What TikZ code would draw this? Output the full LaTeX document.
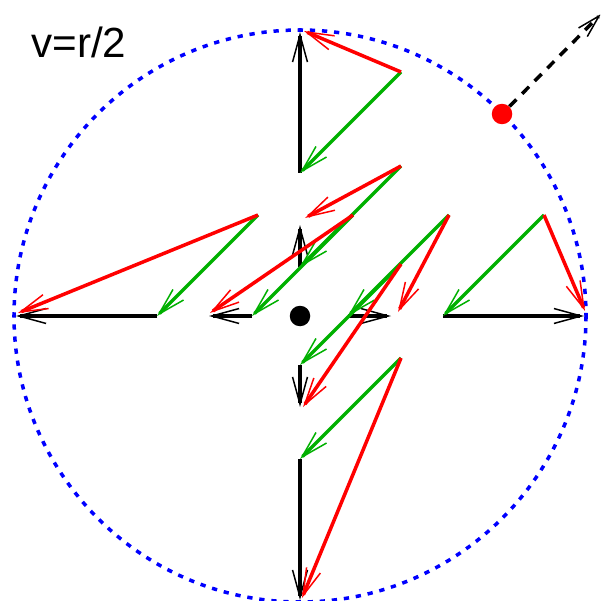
\documentclass[tikz,border=0pt]{standalone}
\usepackage{fontspec}
\setmainfont{Liberation Sans}
\usetikzlibrary{arrows.meta}
\definecolor{ring}{HTML}{0000FF}
\definecolor{hot}{HTML}{FF0000}
\definecolor{drift}{HTML}{00B000}

\begin{document}
\begin{tikzpicture}[x=0.02cm,y=-0.02cm,
  vec/.style={line width=2pt,-{Straight Barb[length=15.5pt,width=8.5pt,line width=0.85pt]}},
  blob/.style={circle,inner sep=0pt,minimum size=0.41cm}]
\useasboundingbox (0,0) rectangle (600,601);
\clip (0,0) rectangle (600,601);
\draw[ring,line width=2pt,dash pattern=on 3pt off 3.9pt] (300,316) circle (286);
\node[anchor=base west,inner sep=0pt,font=\fontsize{24}{28}\selectfont] (title) at (31,58) {v=r/2};
\coordinate (ta) at (300,173); \coordinate (tb) at (300,32);  \coordinate (tc) at (401,72);  \coordinate (td) at (304,31);
\coordinate (la) at (157,316); \coordinate (lb) at (16,316);  \coordinate (lc) at (258,215); \coordinate (ld) at (18,313);
\coordinate (ra) at (443,316); \coordinate (rb) at (584,316); \coordinate (rc) at (544,215); \coordinate (rd) at (585,311);
\coordinate (ba) at (300,459); \coordinate (bb) at (300,600); \coordinate (bc) at (401,358); \coordinate (bd) at (302,598);
\coordinate (iua) at (300,267); \coordinate (iub) at (300,225); \coordinate (iuc) at (401,166); \coordinate (iud) at (305,218);
\coordinate (ila) at (252,316); \coordinate (ilb) at (209,316); \coordinate (ilc) at (353,215); \coordinate (ild) at (210,313);
\coordinate (ira) at (348,316); \coordinate (irb) at (391,316); \coordinate (irc) at (449,215); \coordinate (ird) at (398,312);
\coordinate (ida) at (300,365); \coordinate (idb) at (300,407); \coordinate (idc) at (401,264); \coordinate (idd) at (303,407);
\draw[vec] (ta) -- (tb); \draw[vec] (la) -- (lb); \draw[vec] (ra) -- (rb); \draw[vec] (ba) -- (bb);
\draw[vec] (iua) -- (iub); \draw[vec] (ila) -- (ilb); \draw[vec] (ira) -- (irb); \draw[vec] (ida) -- (idb);
\draw[vec,drift] (tc) -- (ta); \draw[vec,drift] (lc) -- (la); \draw[vec,drift] (rc) -- (ra); \draw[vec,drift] (bc) -- (ba);
\draw[vec,drift] (iuc) -- (iua); \draw[vec,drift] (ilc) -- (ila); \draw[vec,drift] (irc) -- (ira); \draw[vec,drift] (idc) -- (ida);
\draw[vec,hot] (tc) -- (td); \draw[vec,hot] (lc) -- (ld); \draw[vec,hot] (rc) -- (rd); \draw[vec,hot] (bc) -- (bd);
\draw[vec,hot] (iuc) -- (iud); \draw[vec,hot] (ilc) -- (ild); \draw[vec,hot] (irc) -- (ird); \draw[vec,hot] (idc) -- (idd);
\node[blob,fill=hot] (obs) at (502,114) {};
\coordinate (obsv) at (601,14);
\draw[vec,dash pattern=on 5.6pt off 4.6pt,-{Straight Barb[length=13pt,width=7pt,line width=0.85pt]}] (obs) -- (obsv);
\node[blob,fill=black] (mid) at (300,316) {};
\end{tikzpicture}
\end{document}
